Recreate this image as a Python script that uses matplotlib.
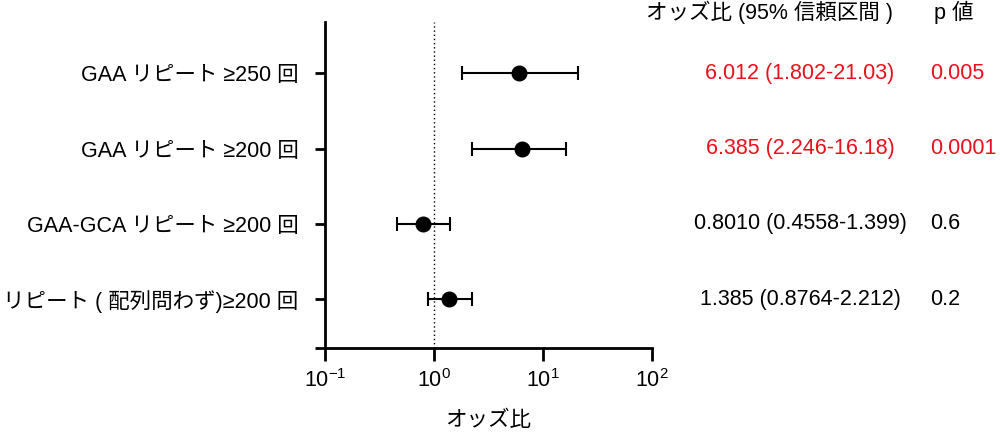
import matplotlib
matplotlib.use("Agg")
import matplotlib.pyplot as plt
from matplotlib.transforms import blended_transform_factory

plt.rcParams['font.family'] = ['Liberation Sans', 'Noto Sans CJK JP', 'DejaVu Sans']

labels = ["GAA リピート ≥250 回", "GAA リピート ≥200 回",
          "GAA-GCA リピート ≥200 回", "リピート ( 配列問わず)≥200 回"]
odds = [6.012, 6.385, 0.8010, 1.385]
low = [1.802, 2.246, 0.4558, 0.8764]
high = [21.03, 16.18, 1.399, 2.212]
or_text = ["6.012 (1.802-21.03)", "6.385 (2.246-16.18)",
           "0.8010 (0.4558-1.399)", "1.385 (0.8764-2.212)"]
p_text = ["0.005", "0.0001", "0.6", "0.2"]
highlight = [True, True, False, False]
xticks = [0.1, 1, 10, 100]
xticklabels = [r"$\mathregular{10^{-1}}$", r"$\mathregular{10^{0}}$",
               r"$\mathregular{10^{1}}$", r"$\mathregular{10^{2}}$"]

FS = 15.5
fig = plt.figure(figsize=(10, 4.34), dpi=100)
ax = fig.add_axes([0.325, 0.198, 0.327, 0.751])

ypos = [4, 3, 2, 1]
for y, o, lo, hi in zip(ypos, odds, low, high):
    ax.errorbar([o], [y], xerr=[[o - lo], [hi - o]], fmt='o', color='black',
                markersize=10.5, capsize=5, capthick=1.5, elinewidth=1.5)

ax.axvline(1, color='black', linestyle=(0, (1, 2)), linewidth=1)
ax.set_xscale('log')
ax.set_xlim(0.1, 100)
ax.set_ylim(0.35, 4.68)
ax.set_xticks(xticks)
ax.set_xticklabels(xticklabels)
ax.minorticks_off()
ax.set_yticks(ypos + [0.35])
ax.set_yticklabels(labels + [""])
for s in ['top', 'right']:
    ax.spines[s].set_visible(False)
for s in ['left', 'bottom']:
    ax.spines[s].set_linewidth(2)
ax.tick_params(axis='x', length=9, width=2, labelsize=FS, pad=6)
ax.tick_params(axis='y', length=7, width=2, labelsize=FS, pad=12)
ax.set_xlabel("オッズ比", fontsize=FS, labelpad=13)

red = '#e8101c'
fig.text(0.770, 0.972, "オッズ比 (95% 信頼区間 )", fontsize=FS, ha='center', va='center')
fig.text(0.934, 0.972, "p 値", fontsize=FS, ha='left', va='center')
tr = blended_transform_factory(fig.transFigure, ax.transData)
for y, t, p, h in zip(ypos, or_text, p_text, highlight):
    c = red if h else 'black'
    ax.text(0.80, y, t, fontsize=FS, ha='center', va='center', color=c, transform=tr)
    ax.text(0.930, y, p, fontsize=FS, ha='left', va='center', color=c, transform=tr)

fig.savefig("out.png", dpi=100)
